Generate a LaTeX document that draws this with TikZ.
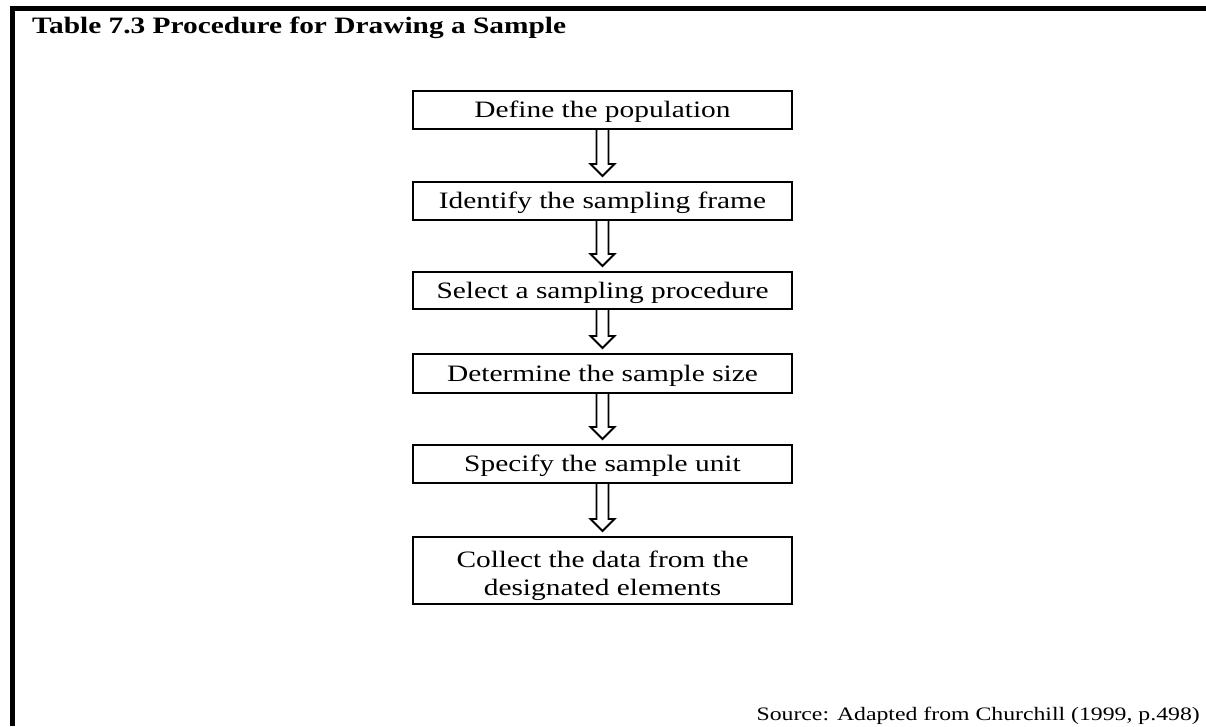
\documentclass[tikz,border=0pt]{standalone}
\usepackage{fontspec}
\setmainfont{Liberation Serif}[FakeStretch=1.25]
\usetikzlibrary{calc}
\begin{document}
\begin{tikzpicture}[x=1pt,y=-1pt,
  stepbox/.style={draw, line width=2pt, minimum width=379pt, inner sep=0pt,
    align=center, text height=15.6pt, text depth=0pt,
    font=\fontsize{23.5}{28}\selectfont},
  blockarrow/.style={draw, line width=1.8pt, fill=white, miter limit=10,
    to path={let \p1=(\tikztostart), \p2=(\tikztotarget) in
      (\x1-6pt,\y1) -- (\x1-6pt,\y2+17pt) -- (\x1-12pt,\y2+17pt)
      -- (\x1,\y2+5pt) -- (\x1+12pt,\y2+17pt) -- (\x1+6pt,\y2+17pt)
      -- (\x1+6pt,\y1)}}
]
\useasboundingbox (0,0) rectangle (1206,726);

% outer frame: top and left rules only
\draw[line width=5pt] (12.5,726) -- (12.5,8.5) -- (1206,8.5);

% heading and source line
\node[anchor=base west, inner sep=0pt, font=\bfseries\fontsize{23.5}{28}\selectfont]
  (title) at (32,33) {Table 7.3 Procedure for Drawing a Sample};
\node[anchor=base east, inner sep=0pt, font=\fontsize{19}{24}\selectfont]
  (src) at (1200,720) {Source: Adapted from Churchill (1999, p.498)};

% steps
\node[stepbox, minimum height=38pt] (b1) at (602.5,110)   {Define the population};
\node[stepbox, minimum height=38pt] (b2) at (602.5,201)   {Identify the sampling frame};
\node[stepbox, minimum height=37pt] (b3) at (602.5,290.5) {Select a sampling procedure};
\node[stepbox, minimum height=39pt] (b4) at (602.5,373.5) {Determine the sample size};
\node[stepbox, minimum height=38pt] (b5) at (602.5,464)   {Specify the sample unit};
\node[stepbox, minimum height=67pt, text height=49pt] (b6) at (602.5,570.5)
  {Collect the data from the\\designated elements};

% hollow arrows between the steps
\foreach \a/\b in {b1/b2, b2/b3, b3/b4, b4/b5, b5/b6}
  \draw[blockarrow] (\a.south) to (\b.north);
\end{tikzpicture}
\end{document}
